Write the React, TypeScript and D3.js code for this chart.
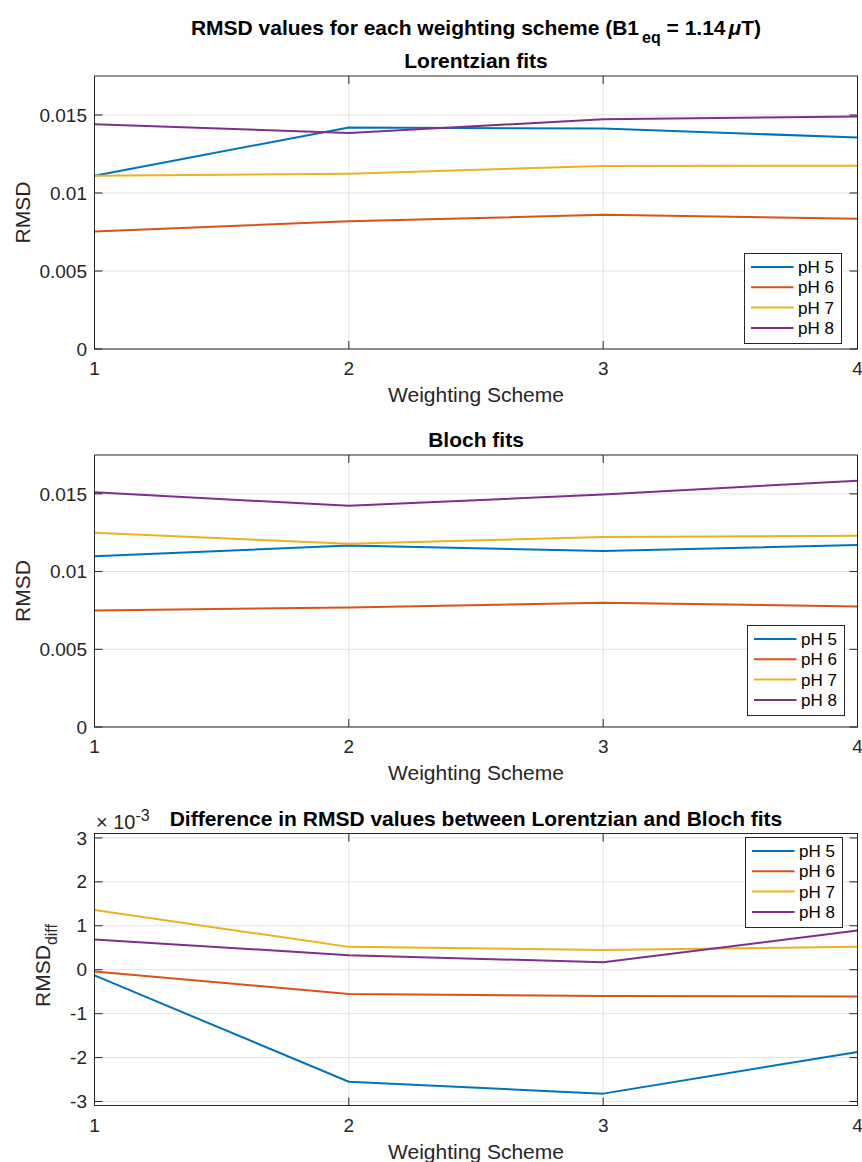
import React from "react";
import * as d3 from "d3";

// Weighting schemes on the x axis
const schemes = [1, 2, 3, 4];
const seriesNames = ["pH 5", "pH 6", "pH 7", "pH 8"];
const seriesColors = ["#0072BD", "#D95319", "#EDB120", "#7E2F8E"];

// RMSD of Lorentzian fits per pH
const lorentzPH5 = [0.01111, 0.0142, 0.01413, 0.01356];
const lorentzPH6 = [0.00753, 0.00819, 0.0086, 0.00835];
const lorentzPH7 = [0.01111, 0.01124, 0.01173, 0.01175];
const lorentzPH8 = [0.01441, 0.01384, 0.01473, 0.0149];

// RMSD of Bloch fits per pH
const blochPH5 = [0.01098, 0.01167, 0.01133, 0.01171];
const blochPH6 = [0.0075, 0.00769, 0.00799, 0.00776];
const blochPH7 = [0.0125, 0.01179, 0.01222, 0.01231];
const blochPH8 = [0.0151, 0.01423, 0.01496, 0.01585];

// Difference in RMSD (Bloch - Lorentzian)
const diffPH5 = [-0.13e-3, -2.55e-3, -2.82e-3, -1.87e-3];
const diffPH6 = [-0.04e-3, -0.55e-3, -0.6e-3, -0.61e-3];
const diffPH7 = [1.36e-3, 0.52e-3, 0.45e-3, 0.52e-3];
const diffPH8 = [0.69e-3, 0.33e-3, 0.17e-3, 0.89e-3];

const rmsdTicks = [0, 0.005, 0.01, 0.015];
const rmsdTickLabels = ["0", "0.005", "0.01", "0.015"];
const diffTicks = [-3e-3, -2e-3, -1e-3, 0, 1e-3, 2e-3, 3e-3];
const diffTickLabels = ["-3", "-2", "-1", "0", "1", "2", "3"];

const FONT = "'Liberation Sans', Arial, Helvetica, sans-serif";
const INK = "#262626";
const GRID = "#e3e3e3";

const W = 862;
const H = 1162;
const LEFT = 94.5;
const RIGHT = 857.5;

type PanelProps = {
  top: number;
  bottom: number;
  title: string;
  series: number[][];
  domain: [number, number];
  ticks: number[];
  tickLabels: string[];
  yLabel: React.ReactNode;
  legend: { x: number; y: number };
  exponent?: boolean;
};

function Panel(p: PanelProps) {
  const x = d3.scaleLinear().domain([1, 4]).range([LEFT, RIGHT]);
  const y = d3.scaleLinear().domain(p.domain).range([p.bottom, p.top]);
  const line = d3
    .line<number>()
    .x((_, i) => x(schemes[i]))
    .y((v) => y(v));
  const tickLen = 8;
  const legW = 97;
  const rowH = 20.3;
  const legH = 90;

  return (
    <g>
      {/* grid */}
      {schemes.map((s) => (
        <line key={"gx" + s} x1={x(s)} x2={x(s)} y1={p.top} y2={p.bottom} stroke={GRID} strokeWidth={1} />
      ))}
      {p.ticks.map((t) => (
        <line key={"gy" + t} x1={LEFT} x2={RIGHT} y1={y(t)} y2={y(t)} stroke={GRID} strokeWidth={1} />
      ))}
      {/* data lines */}
      {p.series.map((vals, i) => (
        <path key={"s" + i} d={line(vals) || ""} fill="none" stroke={seriesColors[i]} strokeWidth={2} strokeLinejoin="round" />
      ))}
      {/* box */}
      <rect x={LEFT} y={p.top} width={RIGHT - LEFT} height={p.bottom - p.top} fill="none" stroke={INK} strokeWidth={1} />
      {/* ticks */}
      {schemes.map((s) => (
        <g key={"tx" + s}>
          <line x1={x(s)} x2={x(s)} y1={p.bottom} y2={p.bottom - tickLen} stroke={INK} />
          <line x1={x(s)} x2={x(s)} y1={p.top} y2={p.top + tickLen} stroke={INK} />
          <text x={x(s)} y={p.bottom + 26} textAnchor="middle" fontSize={19} fill={INK} fontFamily={FONT}>
            {s}
          </text>
        </g>
      ))}
      {p.ticks.map((t, i) => (
        <g key={"ty" + t}>
          <line x1={LEFT} x2={LEFT + tickLen} y1={y(t)} y2={y(t)} stroke={INK} />
          <line x1={RIGHT} x2={RIGHT - tickLen} y1={y(t)} y2={y(t)} stroke={INK} />
          <text x={87} y={y(t)} dy="0.35em" textAnchor="end" fontSize={19} fill={INK} fontFamily={FONT}>
            {p.tickLabels[i]}
          </text>
        </g>
      ))}
      {p.exponent && (
        <text x={96} y={p.top - 5} fontSize={20} fill={INK} fontFamily={FONT}>
          × 10<tspan dy={-8} fontSize={16}>-3</tspan>
        </text>
      )}
      {/* labels */}
      <text x={(LEFT + RIGHT) / 2} y={p.bottom + 53} textAnchor="middle" fontSize={21} fill={INK} fontFamily={FONT}>
        Weighting Scheme
      </text>
      {p.yLabel}
      <text x={(LEFT + RIGHT) / 2} y={p.top - 8} textAnchor="middle" fontSize={21} fontWeight="bold" fill="#000" fontFamily={FONT}>
        {p.title}
      </text>
      {/* legend */}
      <g transform={`translate(${p.legend.x},${p.legend.y})`}>
        <rect x={0} y={0} width={legW} height={legH} fill="#fff" stroke={INK} strokeWidth={1} />
        {seriesNames.map((n, i) => (
          <g key={n} transform={`translate(0,${13.5 + i * rowH})`}>
            <line x1={6.5} x2={49} y1={0} y2={0} stroke={seriesColors[i]} strokeWidth={2} />
            <text x={53.5} y={0} dy="0.35em" fontSize={17} fill="#000" fontFamily={FONT}>
              {n}
            </text>
          </g>
        ))}
      </g>
    </g>
  );
}

export default function App() {
  const rmsdLabel = (top: number, bottom: number) => (
    <text
      transform={`translate(30,${(top + bottom) / 2}) rotate(-90)`}
      textAnchor="middle"
      fontSize={21}
      fill={INK}
      fontFamily={FONT}
    >
      RMSD
    </text>
  );
  const p3Top = 833.5;
  const p3Bottom = 1105.5;
  const diffLabel = (
    <text
      transform={`translate(50,${(p3Top + p3Bottom) / 2 - 4}) rotate(-90)`}
      textAnchor="middle"
      fontSize={21}
      fill={INK}
      fontFamily={FONT}
    >
      RMSD<tspan dy={7} fontSize={16}>diff</tspan>
    </text>
  );

  return (
    <svg
      width={W}
      height={H}
      viewBox={`0 0 ${W} ${H}`}
      style={{ position: "absolute", left: 0, top: 0, display: "block", background: "#fff" }}
    >
      <rect x={0} y={0} width={W} height={H} fill="#fff" />
      <text x={476} y={35} textAnchor="middle" fontSize={21} fontWeight="bold" fill="#000" fontFamily={FONT}>
        RMSD values for each weighting scheme (B1
        <tspan dx={3} dy={8} fontSize={16}>eq</tspan>
        <tspan dy={-8}> = 1.14</tspan>
        <tspan dx={3} fontStyle="italic">μ</tspan>
        <tspan>T)</tspan>
      </text>
      <Panel
        top={76}
        bottom={349}
        title="Lorentzian fits"
        series={[lorentzPH5, lorentzPH6, lorentzPH7, lorentzPH8]}
        domain={[0, 0.0175]}
        ticks={rmsdTicks}
        tickLabels={rmsdTickLabels}
        yLabel={rmsdLabel(76, 349)}
        legend={{ x: 744.5, y: 253.5 }}
      />
      <Panel
        top={455}
        bottom={727}
        title="Bloch fits"
        series={[blochPH5, blochPH6, blochPH7, blochPH8]}
        domain={[0, 0.0175]}
        ticks={rmsdTicks}
        tickLabels={rmsdTickLabels}
        yLabel={rmsdLabel(455, 727)}
        legend={{ x: 747.5, y: 625.5 }}
      />
      <Panel
        top={p3Top}
        bottom={p3Bottom}
        title="Difference in RMSD values between Lorentzian and Bloch fits"
        series={[diffPH5, diffPH6, diffPH7, diffPH8]}
        domain={[-3.09e-3, 3.1e-3]}
        ticks={diffTicks}
        tickLabels={diffTickLabels}
        yLabel={diffLabel}
        legend={{ x: 745.5, y: 837.5 }}
        exponent
      />
    </svg>
  );
}
